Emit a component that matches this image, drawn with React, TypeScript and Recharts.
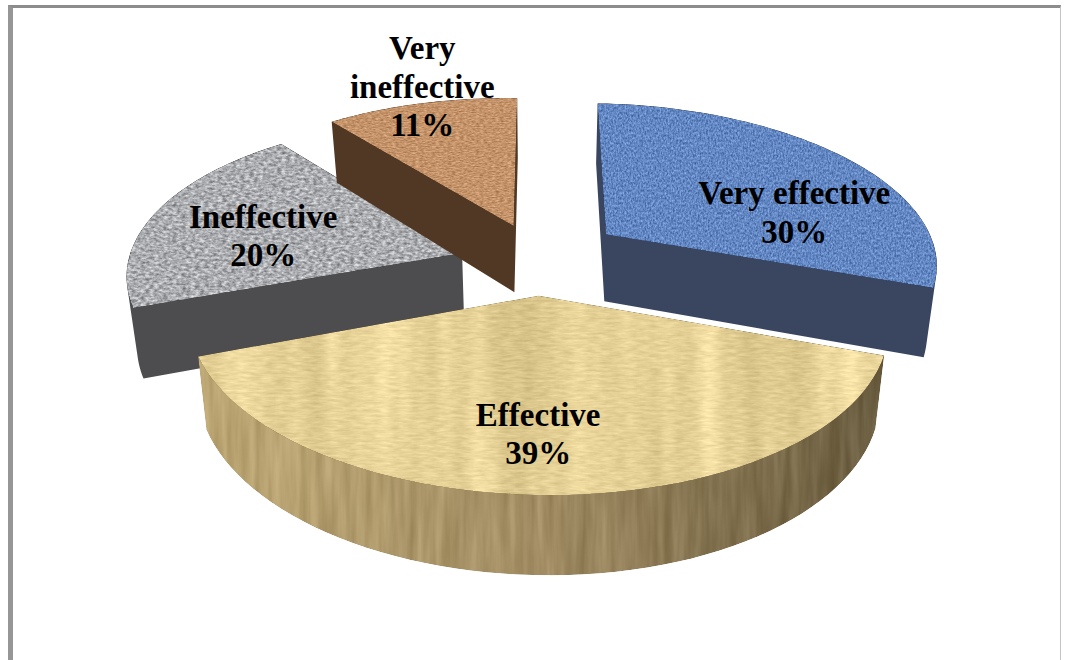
import { PieChart, Pie } from 'recharts';

// Slices are listed back to front so the big front slice paints last.
const names = ['Ineffective', 'Very ineffective', 'Very effective', 'Effective'];
const shares = [20, 11, 30, 39];
const labelLines: Record<string, string[]> = {
  Ineffective: ['Ineffective'],
  'Very ineffective': ['Very', 'ineffective'],
  'Very effective': ['Very effective'],
  Effective: ['Effective'],
};

const data = names.map((name, i) => ({ name, value: shares[i] }));

const WIDTH = 1068;
const HEIGHT = 660;
const CX = 538;
const CY = 255;
const RADIUS = 333;
const SQUASH = 0.47; // vertical foreshortening of the pie plane
const PERSPECTIVE = 0.148;
const EXPLODE = 0.25;
const THICKNESS = 68;
const BOTTOM_SCALE = 0.975;
const TILT = 0.015; // the plane dips slightly towards the right
const START_ANGLE = -158.4;

const RAD = Math.PI / 180;

type Look = {
  top: string;
  side: string | string[];
  freq: string;
  amount: number;
  bands?: string;
  sideFreq?: string;
  sideAmount?: number;
  soften: number;
};

const looks: Record<string, Look> = {
  'Very effective': { top: '#6287c2', side: '#3a4660', freq: '0.6 0.4', amount: 0.45, soften: 0.7 },
  Effective: {
    top: '#e6d196',
    side: ['#bfa976', '#a08b62', '#675a3d'],
    freq: '0.08 0.4',
    amount: 0.16,
    bands: '0.03 0.002',
    sideFreq: '0.11 0.01',
    sideAmount: 0.18,
    soften: 0.6,
  },
  Ineffective: { top: '#acadb1', side: '#4d4d4f', freq: '0.22 0.42', amount: 0.65, soften: 0.7 },
  'Very ineffective': { top: '#c4936a', side: '#503824', freq: '0.25 0.8', amount: 0.36, soften: 0.7 },
};

// Per-slice shift of the exploded piece, in px
const sliceNudge: Record<string, [number, number]> = {
  'Very effective': [2, 1],
  Effective: [-2, 0],
  Ineffective: [4, 9],
  'Very ineffective': [3, 7],
};

// Label anchor inside each slice, as a radius fraction plus a nudge in px
const labelNudge: Record<string, [number, number]> = {
  'Very effective': [43, 28],
  Effective: [-10, 28],
  Ineffective: [-9, 18],
  'Very ineffective': [-30, -54],
};

// Clockwise-from-top angle and in-plane radius to screen coordinates
function project(cx: number, cy: number, r: number, deg: number, rho: number, midDeg: number) {
  const u = Math.sin(deg * RAD) * rho + Math.sin(midDeg * RAD) * EXPLODE;
  const v = -Math.cos(deg * RAD) * rho - Math.cos(midDeg * RAD) * EXPLODE;
  const w = 1 - PERSPECTIVE * v;
  const x = (r * u) / w;
  return { x: cx + x, y: cy + (r * SQUASH * v) / w + TILT * x, w };
}

function hull(points: number[][]) {
  const pts = [...points].sort((a, b) => a[0] - b[0] || a[1] - b[1]);
  const cross = (o: number[], a: number[], b: number[]) =>
    (a[0] - o[0]) * (b[1] - o[1]) - (a[1] - o[1]) * (b[0] - o[0]);
  const lower: number[][] = [];
  for (const p of pts) {
    while (lower.length >= 2 && cross(lower[lower.length - 2], lower[lower.length - 1], p) <= 0) lower.pop();
    lower.push(p);
  }
  const upper: number[][] = [];
  for (const p of [...pts].reverse()) {
    while (upper.length >= 2 && cross(upper[upper.length - 2], upper[upper.length - 1], p) <= 0) upper.pop();
    upper.push(p);
  }
  return [...lower.slice(0, -1), ...upper.slice(0, -1)];
}

const toPath = (pts: number[][]) =>
  'M' + pts.map((p) => `${p[0].toFixed(1)} ${p[1].toFixed(1)}`).join('L') + 'Z';

const GREY = '1 0 0 0 0  1 0 0 0 0  1 0 0 0 0  0 0 0 0 1';

function TextureFilter(props: { id: string; freq: string; amount: number; soften: number; seed: number; bands?: string }) {
  const { id, freq, amount, soften, seed, bands } = props;
  return (
    <filter id={id} x="0" y="0" width="1" height="1" colorInterpolationFilters="sRGB">
      <feTurbulence type="fractalNoise" baseFrequency={freq} numOctaves={3} seed={seed} result="noise" />
      <feColorMatrix in="noise" type="matrix" values={GREY} result="grey" />
      <feGaussianBlur in="grey" stdDeviation={soften} result="soft" />
      <feComposite in="SourceGraphic" in2="soft" operator="arithmetic" k1={0} k2={1} k3={amount} k4={-amount / 2} result="mixed" />
      {bands && <feTurbulence type="fractalNoise" baseFrequency={bands} numOctaves={2} seed={seed + 5} result="bandNoise" />}
      {bands && <feColorMatrix in="bandNoise" type="matrix" values={GREY} result="bandGrey" />}
      {bands && <feComposite in="mixed" in2="bandGrey" operator="arithmetic" k1={0} k2={1} k3={0.22} k4={-0.11} result="mixed" />}
      <feComposite in="mixed" in2="SourceAlpha" operator="in" />
    </filter>
  );
}

function Slice3D(props: any) {
  const { cx, cy, outerRadius, startAngle, endAngle, name, index } = props;
  const look = looks[name];
  const [nudgeX, nudgeY] = sliceNudge[name];
  // recharts angles run counter-clockwise from 3 o'clock
  const from = 90 - startAngle;
  const to = 90 - endAngle;
  const mid = (from + to) / 2;

  const topPts: number[][] = [];
  const lowPts: number[][] = [];
  const addPoint = (deg: number, rho: number) => {
    const p = project(cx, cy, outerRadius, deg, rho, mid);
    topPts.push([p.x + nudgeX, p.y + nudgeY]);
    lowPts.push([cx + (p.x - cx) * BOTTOM_SCALE + nudgeX, p.y + nudgeY + THICKNESS * Math.pow(p.w, -0.8)]);
  };
  addPoint(from, 0);
  const steps = 60;
  for (let i = 0; i <= steps; i++) addPoint(from + ((to - from) * i) / steps, 1);

  const key = `slice-${index}`;
  const sideStops = Array.isArray(look.side) ? look.side : null;

  return (
    <g>
      <defs>
        <TextureFilter id={`${key}-top`} freq={look.freq} amount={look.amount} soften={look.soften} seed={index + 3} bands={look.bands} />
        {sideStops && (
          <>
            <TextureFilter
              id={`${key}-side`}
              freq={look.sideFreq ?? look.freq}
              amount={look.sideAmount ?? look.amount}
              soften={0.4}
              seed={index + 11}
            />
            <linearGradient id={`${key}-grad`} x1="0" y1="0" x2="1" y2="0">
              {sideStops.map((c, i) => (
                <stop key={c} offset={i / (sideStops.length - 1)} stopColor={c} />
              ))}
            </linearGradient>
          </>
        )}
      </defs>
      <path
        d={toPath(hull([...topPts, ...lowPts]))}
        fill={sideStops ? `url(#${key}-grad)` : (look.side as string)}
        filter={sideStops ? `url(#${key}-side)` : undefined}
      />
      <path d={toPath(topPts)} fill={look.top} filter={`url(#${key}-top)`} />
    </g>
  );
}

function SliceLabel(props: any) {
  const { cx, cy, outerRadius, midAngle, name, value } = props;
  const mid = 90 - midAngle;
  const anchor = project(cx, cy, outerRadius, mid, 0.6, mid);
  const [dx, dy] = labelNudge[name];
  const lines = [...labelLines[name], `${value}%`];
  const lineHeight = 38.5;
  const firstY = anchor.y + dy - ((lines.length - 1) * lineHeight) / 2 + 10;
  return (
    <text
      textAnchor="middle"
      fontFamily="'Liberation Serif', serif"
      fontWeight={700}
      fontSize={33}
      fill="#000"
    >
      {lines.map((line, i) => (
        <tspan key={line} x={anchor.x + dx} y={firstY + i * lineHeight}>
          {line}
        </tspan>
      ))}
    </text>
  );
}

export default function App() {
  return (
    <div style={{ position: 'absolute', left: 0, top: 0, width: WIDTH, height: HEIGHT, background: '#fff', overflow: 'hidden' }}>
      <div
        style={{
          position: 'absolute',
          left: 8,
          top: 5,
          width: 1053,
          height: 655,
          boxSizing: 'border-box',
          borderTop: '3px solid #8c8c8c',
          borderLeft: '5px solid #969696',
          borderRight: '1px solid #c4c4c4',
        }}
      />
      <PieChart width={WIDTH} height={HEIGHT} margin={{ top: 0, right: 0, bottom: 0, left: 0 }} style={{ position: 'absolute', left: 0, top: 0 }}>
        <Pie
          data={data}
          dataKey="value"
          nameKey="name"
          cx={CX}
          cy={CY}
          innerRadius={0}
          outerRadius={RADIUS}
          startAngle={START_ANGLE}
          endAngle={START_ANGLE - 360}
          paddingAngle={0}
          stroke="none"
          shape={Slice3D}
          label={SliceLabel}
          labelLine={false}
          isAnimationActive={false}
        />
      </PieChart>
    </div>
  );
}
